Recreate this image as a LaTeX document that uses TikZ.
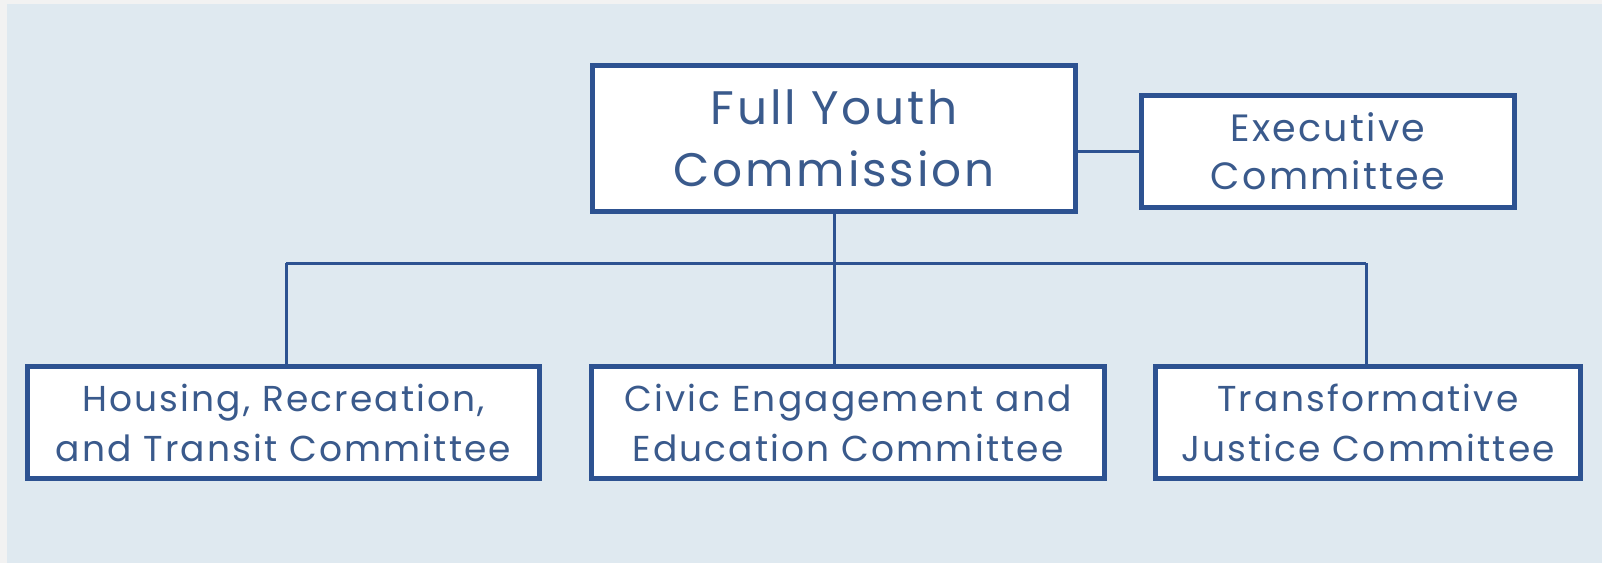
\documentclass[tikz,border=0pt]{standalone}
\usepackage{fontspec}
\setmainfont{Poppins}[LetterSpace=6]
\definecolor{bgblue}{HTML}{DFE9F0}
\definecolor{edgegray}{HTML}{F2F2F2}
\definecolor{boxblue}{HTML}{2D5291}
\definecolor{txtblue}{HTML}{3A5A8C}
\tikzset{
  orgbox/.style={draw=boxblue, line width=5pt, fill=white, inner sep=0pt,
    align=center, text=txtblue},
  conn/.style={draw=boxblue, line width=3pt},
  bigtxt/.style={font=\fontsize{47}{62}\selectfont},
  midtxt/.style={font=\fontsize{38}{48}\selectfont},
  smalltxt/.style={font=\fontsize{36}{50}\selectfont},
}
\begin{document}
\begin{tikzpicture}[x=1pt,y=1pt]
\useasboundingbox (0,0) rectangle (1602,-563);
\fill[edgegray] (0,0) rectangle (1602,-563);
\fill[bgblue] (7,-4) rectangle (1602,-563);

\node[orgbox, bigtxt, minimum width=483pt, minimum height=146pt] (fyc) at (834,-138.5) {Full Youth\\Commission};
\node[orgbox, midtxt, minimum width=373pt, minimum height=112pt] (exec) at (1328,-151.5) {Executive\\Committee};
\node[orgbox, smalltxt, minimum width=512pt, minimum height=112pt] (house) at (283.5,-422.5) {Housing, Recreation,\\and Transit Committee};
\node[orgbox, smalltxt, minimum width=513pt, minimum height=112pt] (civic) at (848,-422.5) {Civic Engagement and\\Education Committee};
\node[orgbox, smalltxt, minimum width=425pt, minimum height=112pt] (trans) at (1368,-422.5) {Transformative\\Justice Committee};

\coordinate (barL) at (286,-263);
\coordinate (barR) at (1366,-263);

\draw[conn] (exec.west) -- (exec.west -| fyc.east);
\draw[conn] (barL) -- (barR);
\draw[conn] (fyc.south) -- (fyc.south |- civic.north);
\draw[conn] (barL) -- (barL |- house.north);
\draw[conn] (barR) -- (barR |- trans.north);
\end{tikzpicture}
\end{document}
